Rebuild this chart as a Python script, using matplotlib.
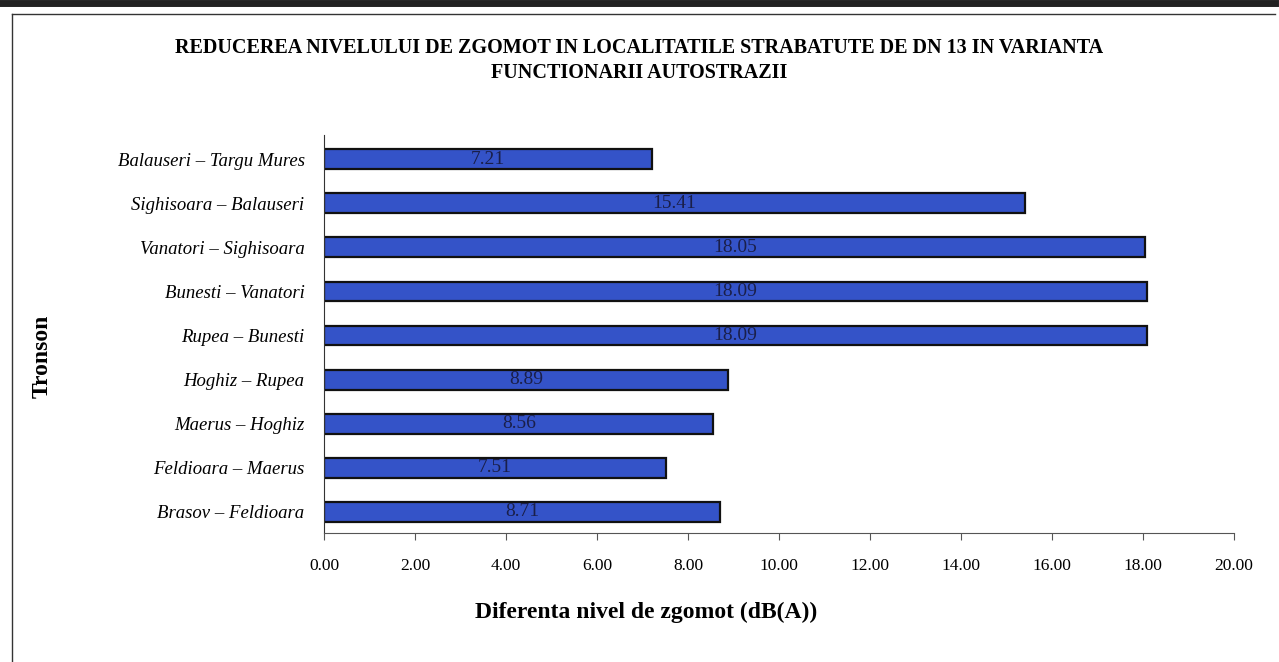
import matplotlib
matplotlib.use('Agg')
import matplotlib.pyplot as plt
from matplotlib.lines import Line2D

# date
tronsoane = ['Brasov – Feldioara', 'Feldioara – Maerus', 'Maerus – Hoghiz',
             'Hoghiz – Rupea', 'Rupea – Bunesti', 'Bunesti – Vanatori',
             'Vanatori – Sighisoara', 'Sighisoara – Balauseri',
             'Balauseri – Targu Mures']
diferente = [8.71, 7.51, 8.56, 8.89, 18.09, 18.09, 18.05, 15.41, 7.21]
xticks = [0, 2, 4, 6, 8, 10, 12, 14, 16, 18, 20]

plt.rcParams['font.family'] = ['Liberation Serif', 'DejaVu Serif']

fig = plt.figure(figsize=(12.79, 6.62), dpi=100)
ax = fig.add_axes([0.2533, 0.1949, 0.7115, 0.6012])

pos = list(range(len(tronsoane)))
ax.barh(pos, diferente, height=0.45, color='#3453c8', edgecolor='#111111', linewidth=1.6)

for p, v in zip(pos, diferente):
    ax.text(v / 2, p, '%.2f' % v, ha='center', va='center', fontsize=14,
            color='#1a1f4a')

ax.set_xlim(0, 20)
ax.set_ylim(-0.48, 8.55)
ax.set_xticks(xticks)
ax.set_xticklabels(['%.2f' % t for t in xticks], fontsize=12.5)
ax.set_yticks(pos)
ax.set_yticklabels(tronsoane, fontsize=13.5, style='italic')
ax.tick_params(axis='y', length=0, pad=14)
ax.tick_params(axis='x', length=5, pad=13, color='#555555')

for s in ['top', 'right']:
    ax.spines[s].set_visible(False)
ax.spines['left'].set_color('#333333')
ax.spines['bottom'].set_color('#555555')

fig.text(0.505, 0.075, 'Diferenta nivel de zgomot (dB(A))', fontsize=17, fontweight='bold',
         ha='center', va='center')
fig.text(0.033, 0.462, 'Tronson', rotation=90, fontsize=17, fontweight='bold',
         ha='center', va='center')

fig.text(0.5, 0.928, 'REDUCEREA NIVELULUI DE ZGOMOT IN LOCALITATILE STRABATUTE DE DN 13 IN VARIANTA',
         ha='center', va='center', fontsize=14.5, fontweight='bold')
fig.text(0.5, 0.89, 'FUNCTIONARII AUTOSTRAZII',
         ha='center', va='center', fontsize=14.5, fontweight='bold')

# rama scanata
fig.add_artist(Line2D([0, 0.997], [0.996, 0.996], color='#222222', linewidth=5, transform=fig.transFigure))
fig.add_artist(Line2D([0.009, 0.997], [0.979, 0.979], color='#333333', linewidth=1, transform=fig.transFigure))
fig.add_artist(Line2D([0.009, 0.009], [0.0, 0.979], color='#333333', linewidth=1, transform=fig.transFigure))

fig.savefig('out.png', dpi=100)
